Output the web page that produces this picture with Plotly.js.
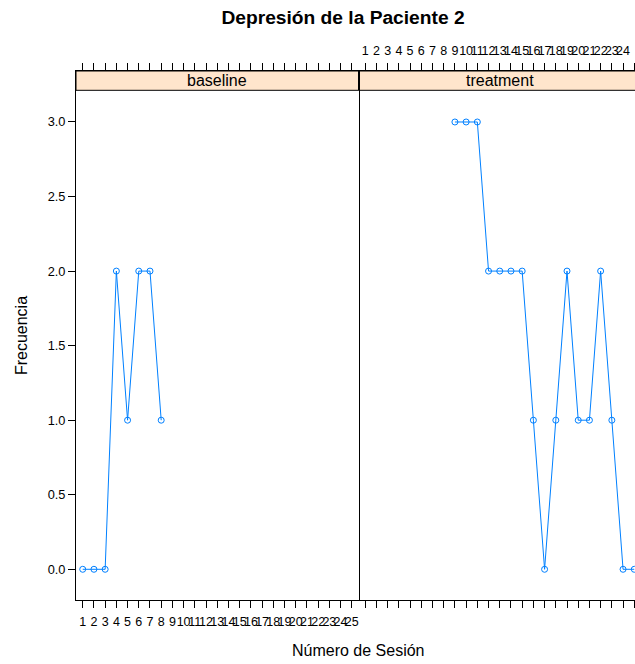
<!DOCTYPE html>
<html>
<head>
<meta charset="utf-8">
<script src="https://cdn.plot.ly/plotly-3.0.1.min.js"></script>
<style>
html,body{margin:0;padding:0;overflow:hidden;background:#fff;}
#chart{width:641px;height:664px;}
</style>
</head>
<body>
<div id="chart"></div>
<script>
// Data
const sessionLabels = ["1","2","3","4","5","6","7","8","9","10","11","12","13","14","15","16","17","18","19","20","21","22","23","24","25"];
const baselineSessions = [1,2,3,4,5,6,7,8];
const baselineValues   = [0,0,0,2,1,2,2,1];
const treatmentSessions = [9,10,11,12,13,14,15,16,17,18,19,20,21,22,23,24,25];
const treatmentValues   = [3,3,3,2,2,2,2,1,0,1,2,1,1,2,1,0,0];
const yTickVals = [0,0.5,1,1.5,2,2.5,3];
const yTickText = ["0.0","0.5","1.0","1.5","2.0","2.5","3.0"];
const panelNames = ["baseline","treatment"];

const tickVals = sessionLabels.map((s,i)=>i+1);
const FONT = "Liberation Sans, Arial, sans-serif";
const BLUE = "#0080ff";

const lineStyle = {color: BLUE, width: 1};
const markerStyle = {symbol: "circle-open", size: 6, color: BLUE, line: {width: 1, color: BLUE}};

const traces = [
  {x: baselineSessions, y: baselineValues, xaxis: "x", yaxis: "y", type: "scatter",
   mode: "lines+markers", line: lineStyle, marker: markerStyle, showlegend: false, cliponaxis: false},
  {x: treatmentSessions, y: treatmentValues, xaxis: "x2", yaxis: "y2", type: "scatter",
   mode: "lines+markers", line: lineStyle, marker: markerStyle, showlegend: false, cliponaxis: false}
];

const stripTop = 1, stripBottom = 0.9635;

const xCommon = {
  range: [0.4, 25.6], tickmode: "array", tickvals: tickVals, ticktext: sessionLabels,
  tickangle: 0, ticks: "outside", ticklen: 7, tickwidth: 1, tickcolor: "#000",
  ticklabelstandoff: 3,
  showline: true, linecolor: "#000", linewidth: 1, mirror: "ticks",
  showgrid: false, zeroline: false, fixedrange: true,
  tickfont: {family: FONT, size: 12.5, color: "#000"}
};

const layout = {
  width: 641, height: 664,
  margin: {l: 76, r: 0, t: 71, b: 64},
  paper_bgcolor: "#fff", plot_bgcolor: "#fff",
  font: {family: FONT, color: "#000"},
  title: {text: "<b>Depresión de la Paciente 2</b>", xref: "container", x: 343/641, xanchor: "center",
          yref: "container", y: 1 - 17/664, yanchor: "middle",
          font: {family: FONT, size: 19.2, color: "#000"}},
  xaxis: Object.assign({}, xCommon, {domain: [0, 0.5], anchor: "y", side: "bottom"}),
  xaxis2: Object.assign({}, xCommon, {domain: [0.5, 1], anchor: "y2", side: "top"}),
  yaxis: {
    range: [-0.206, 3.342], tickmode: "array", tickvals: yTickVals, ticktext: yTickText,
    ticks: "outside", ticklen: 7, tickwidth: 1, tickcolor: "#000",
    showline: true, linecolor: "#000", linewidth: 1, mirror: true,
    showgrid: false, zeroline: false, fixedrange: true, anchor: "x",
    tickfont: {family: FONT, size: 12.8, color: "#000"},
    title: {text: "Frecuencia", font: {family: FONT, size: 16, color: "#000"}, standoff: 16}
  },
  yaxis2: {
    matches: "y", range: [-0.206, 3.342], anchor: "x2", showticklabels: false, ticks: "",
    showline: false, showgrid: false, zeroline: false, fixedrange: true
  },
  shapes: [
    {type: "rect", xref: "x domain", yref: "paper", x0: 0, x1: 1, y0: stripBottom, y1: stripTop,
     fillcolor: "#ffe5cc", line: {color: "#000", width: 1}, layer: "below"},
    {type: "rect", xref: "x2 domain", yref: "paper", x0: 0, x1: 1, y0: stripBottom, y1: stripTop,
     fillcolor: "#ffe5cc", line: {color: "#000", width: 1}, layer: "below"}
  ],
  annotations: [
    {text: panelNames[0], xref: "x domain", yref: "paper", x: 0.5, y: (stripTop+stripBottom)/2,
     xanchor: "center", yanchor: "middle", showarrow: false, font: {family: FONT, size: 16, color: "#000"}},
    {text: panelNames[1], xref: "x2 domain", yref: "paper", x: 0.5, y: (stripTop+stripBottom)/2,
     xanchor: "center", yanchor: "middle", showarrow: false, font: {family: FONT, size: 16, color: "#000"}},
    {text: "Número de Sesión", xref: "x domain", yref: "paper", x: 1, y: -50/529,
     xanchor: "center", yanchor: "middle", showarrow: false, font: {family: FONT, size: 16, color: "#000"}}
  ]
};

Plotly.newPlot("chart", traces, layout, {displayModeBar: false, staticPlot: true});
</script>
</body>
</html>
